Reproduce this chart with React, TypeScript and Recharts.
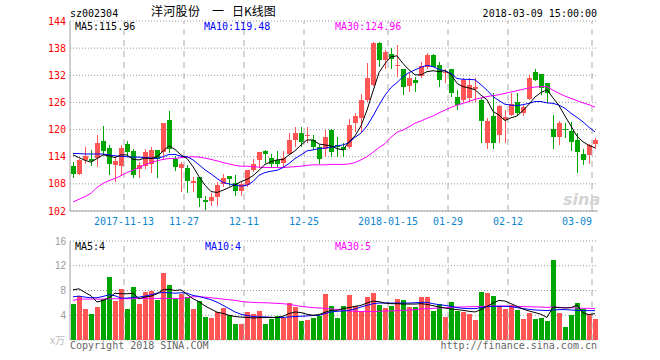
import { ComposedChart, Bar, Line, XAxis, YAxis, CartesianGrid, ReferenceLine } from 'recharts'

// 洋河股份 sz002304 日K线, 2017-10-31 .. 2018-03-09
const dates = [
  '2017-10-31', '2017-11-01', '2017-11-02', '2017-11-03', '2017-11-06', '2017-11-07', '2017-11-08', '2017-11-09', '2017-11-10',
  '2017-11-13', '2017-11-14', '2017-11-15', '2017-11-16', '2017-11-17', '2017-11-20', '2017-11-21', '2017-11-22', '2017-11-23', '2017-11-24',
  '2017-11-27', '2017-11-28', '2017-11-29', '2017-11-30', '2017-12-01', '2017-12-04', '2017-12-05', '2017-12-06', '2017-12-07', '2017-12-08',
  '2017-12-11', '2017-12-12', '2017-12-13', '2017-12-14', '2017-12-15', '2017-12-18', '2017-12-19', '2017-12-20', '2017-12-21', '2017-12-22',
  '2017-12-25', '2017-12-26', '2017-12-27', '2017-12-28', '2017-12-29', '2018-01-02', '2018-01-03', '2018-01-04', '2018-01-05', '2018-01-08',
  '2018-01-09', '2018-01-10', '2018-01-11', '2018-01-12', '2018-01-15', '2018-01-16', '2018-01-17', '2018-01-18', '2018-01-19', '2018-01-22',
  '2018-01-23', '2018-01-24', '2018-01-25', '2018-01-26', '2018-01-29', '2018-01-30', '2018-01-31', '2018-02-01', '2018-02-02', '2018-02-05',
  '2018-02-06', '2018-02-07', '2018-02-08', '2018-02-09', '2018-02-12', '2018-02-13', '2018-02-14', '2018-02-22', '2018-02-23', '2018-02-26',
  '2018-02-27', '2018-02-28', '2018-03-01', '2018-03-02', '2018-03-05', '2018-03-06', '2018-03-07', '2018-03-08', '2018-03-09',
]

const open = [
  111.9, 110.2, 113.3, 113.6, 113.8, 117.5, 116.0, 112.2, 112.0, 116.8,
  115.3, 111.2, 112.0, 112.5, 115.5, 115.1, 122.1, 113.6, 111.4, 111.6,
  108.3, 109.6, 104.4, 104.3, 105.1, 107.9, 109.8, 108.1, 106.5, 107.7,
  111.0, 113.3, 115.3, 113.8, 113.3, 112.7, 114.7, 117.7, 119.2, 118.6,
  117.7, 116.1, 115.8, 119.9, 116.6, 116.1, 116.1, 121.5, 122.5, 126.5,
  129.8, 139.2, 135.4, 136.7, 134.1, 133.5, 129.6, 131.0, 131.8, 133.9,
  136.5, 134.3, 132.5, 133.3, 127.3, 126.5, 126.9, 128.9, 126.5, 117.0,
  123.0, 118.8, 122.1, 123.2, 126.2, 123.6, 126.7, 132.8, 132.3, 130.2,
  120.1, 118.3, 120.1, 119.7, 117.7, 114.7, 114.4, 116.8,
]
const high = [
  112.9, 113.6, 116.1, 115.5, 118.8, 120.8, 116.6, 114.1, 116.6, 117.5,
  115.8, 112.9, 115.8, 116.1, 115.5, 121.5, 124.2, 114.1, 112.9, 112.2,
  109.6, 109.6, 105.4, 106.0, 108.5, 110.2, 109.8, 110.0, 108.5, 111.0,
  113.6, 115.1, 115.5, 114.7, 115.3, 115.3, 119.2, 120.5, 120.5, 120.5,
  118.8, 116.6, 119.9, 120.1, 118.3, 117.0, 122.3, 123.6, 127.9, 134.8,
  139.4, 139.4, 137.6, 138.0, 138.7, 133.5, 132.4, 131.7, 135.0, 137.0,
  136.7, 135.0, 133.3, 133.5, 128.7, 131.3, 131.3, 131.3, 126.9, 122.5,
  128.0, 125.4, 124.3, 128.1, 128.1, 125.4, 132.1, 133.3, 132.3, 130.2,
  123.2, 122.0, 121.4, 121.7, 119.2, 115.8, 116.9, 118.1,
]
const low = [
  109.2, 110.0, 112.5, 112.0, 111.8, 114.4, 110.0, 108.5, 110.0, 114.0,
  109.4, 109.2, 111.2, 110.5, 109.4, 113.3, 114.9, 110.9, 106.3, 106.0,
  106.3, 102.8, 102.2, 103.1, 103.2, 107.4, 107.5, 105.4, 105.4, 107.4,
  110.7, 111.4, 112.7, 111.6, 111.8, 111.6, 114.4, 116.2, 116.2, 117.0,
  115.5, 112.5, 114.0, 114.0, 114.0, 114.0, 115.8, 119.5, 119.2, 126.2,
  129.6, 133.9, 133.5, 133.5, 131.7, 127.6, 128.4, 128.4, 131.5, 133.5,
  133.8, 129.5, 130.2, 127.3, 124.3, 126.2, 126.2, 126.2, 117.0, 115.8,
  115.8, 117.0, 117.0, 122.9, 123.2, 123.0, 126.5, 130.8, 127.6, 125.8,
  115.8, 116.6, 118.1, 115.3, 110.5, 112.2, 112.4, 115.8,
]
const close = [
  110.2, 113.3, 114.1, 113.1, 117.1, 115.3, 112.5, 113.0, 116.0, 115.1,
  110.0, 112.2, 115.0, 115.5, 113.6, 121.5, 115.8, 111.8, 112.3, 108.7,
  108.7, 104.9, 104.1, 105.2, 107.7, 109.2, 109.0, 106.5, 108.0, 111.0,
  112.4, 115.1, 114.6, 112.3, 112.3, 113.8, 117.8, 119.3, 117.3, 118.9,
  116.1, 113.4, 118.3, 115.1, 116.1, 115.5, 121.0, 123.0, 126.5, 131.3,
  139.2, 135.4, 137.2, 135.7, 134.3, 129.3, 131.3, 130.2, 134.1, 136.5,
  133.9, 131.0, 132.7, 128.0, 125.4, 131.0, 129.8, 129.3, 122.0, 122.0,
  117.0, 125.2, 122.7, 125.6, 123.6, 125.1, 131.3, 130.9, 129.1, 128.0,
  118.3, 121.5, 119.9, 117.2, 115.1, 113.3, 116.7, 117.8,
]

// 均线
const ma5 = [
  114.4, 113.8, 113.2, 112.8, 113.6, 114.4, 114.2, 113.8, 114.4, 114.4,
  113.4, 113.3, 113.7, 113.6, 114.0, 115.2, 116.4, 115.6, 114.4, 113.6,
  111.8, 109.6, 107.7, 106.3, 106.1, 106.6, 107.2, 107.8, 108.5, 109.0,
  109.8, 111.0, 112.3, 112.9, 113.3, 113.4, 114.4, 115.3, 116.6, 117.7,
  117.7, 116.8, 116.6, 116.4, 115.8, 115.5, 117.3, 118.6, 120.8, 124.3,
  128.5, 132.6, 134.6, 136.1, 136.3, 134.6, 133.2, 132.1, 132.1, 132.8,
  133.0, 132.8, 133.0, 132.2, 130.2, 129.5, 129.2, 128.8, 127.6, 126.6,
  124.0, 123.2, 122.0, 122.6, 123.0, 124.2, 125.6, 127.2, 128.2, 128.8,
  127.0, 125.3, 123.0, 120.8, 118.5, 117.3, 116.5, 115.96,
]
const ma10 = [
  114.7, 114.7, 114.6, 114.6, 114.6, 114.6, 114.4, 114.2, 114.1, 114.0,
  113.9, 113.9, 113.8, 113.7, 113.6, 114.0, 114.5, 114.5, 114.1, 114.0,
  113.3, 112.2, 111.1, 110.2, 109.2, 108.3, 108.0, 107.7, 107.5, 107.7,
  108.5, 109.9, 110.5, 110.8, 111.0, 111.6, 112.5, 113.6, 114.4, 115.3,
  115.5, 115.8, 115.9, 116.1, 116.4, 116.6, 117.1, 118.3, 119.2, 120.8,
  123.0, 125.4, 127.6, 129.3, 130.4, 131.7, 132.6, 133.2, 133.8, 134.2,
  133.9, 133.3, 133.0, 132.4, 131.3, 131.1, 131.1, 131.0, 129.9, 128.7,
  127.3, 126.4, 125.6, 125.4, 125.3, 125.5, 125.8, 126.2, 126.2, 125.9,
  125.8, 125.4, 124.7, 123.6, 122.7, 121.7, 120.5, 119.48,
]
const ma30 = [
  104.0, 104.6, 105.2, 105.9, 107.2, 108.1, 108.7, 109.2, 109.8, 110.5,
  111.0, 111.6, 112.2, 112.7, 113.1, 113.4, 113.6, 113.6, 113.8, 113.9,
  114.0, 113.9, 113.7, 113.4, 113.1, 112.7, 112.4, 112.1, 111.9, 111.9,
  111.8, 111.7, 111.6, 111.6, 111.6, 111.6, 111.7, 111.8, 111.9, 112.1,
  112.2, 112.2, 112.2, 112.3, 112.3, 112.3, 112.4, 112.7, 113.3, 114.0,
  115.0, 116.0, 116.9, 118.3, 119.4, 119.9, 120.6, 121.4, 121.9, 122.5,
  123.0, 123.7, 124.3, 124.9, 125.4, 125.8, 126.2, 126.7, 127.0, 127.3,
  127.5, 127.7, 128.0, 128.3, 128.6, 128.9, 129.2, 129.4, 129.5, 129.5,
  128.7, 128.0, 127.4, 126.9, 126.4, 125.9, 125.5, 124.96,
]

// 成交量 (x万)
const vol = [
  5.76, 7.09, 4.96, 4.16, 5.3, 6.6, 10.24, 6.24, 8.32, 4.96,
  8.64, 5.8, 7.68, 8.0, 6.4, 10.88, 8.96, 6.56, 7.36, 6.93,
  4.96, 6.24, 3.68, 3.52, 4.53, 5.12, 4.0, 2.56, 2.56, 4.48,
  4.16, 4.64, 2.56, 3.36, 3.95, 3.63, 5.92, 5.28, 3.04, 3.2,
  3.63, 3.95, 7.36, 5.55, 3.63, 5.44, 7.2, 5.44, 4.64, 6.88,
  7.52, 5.6, 5.12, 5.44, 6.56, 6.4, 5.28, 5.28, 6.88, 6.88,
  4.64, 5.76, 3.68, 6.08, 4.64, 4.48, 4.16, 3.2, 7.68, 7.52,
  7.04, 5.44, 4.96, 5.6, 4.8, 3.36, 4.32, 3.36, 3.52, 3.04,
  12.96, 4.32, 2.08, 4.0, 5.92, 4.96, 4.16, 3.36,
]
const vma5 = [
  8.11, 8.27, 7.68, 7.15, 6.13, 6.4, 6.83, 7.57, 7.47, 7.47,
  7.57, 6.67, 6.93, 7.09, 7.47, 8.11, 8.21, 8.0, 8.11, 7.36,
  6.67, 6.2, 5.5, 5.0, 4.5, 4.3, 4.0, 3.8, 3.7, 3.65,
  3.55, 3.63, 3.63, 3.63, 3.63, 3.84, 4.27, 4.53, 4.43, 4.16,
  4.0, 4.1, 4.48, 4.8, 4.8, 5.07, 5.23, 5.44, 5.6, 5.97,
  6.29, 6.19, 5.97, 5.87, 5.87, 5.81, 5.81, 5.81, 5.87, 5.76,
  5.55, 5.33, 5.17, 5.01, 4.91, 4.8, 4.64, 4.53, 4.91, 5.44,
  5.97, 6.4, 6.29, 5.87, 5.44, 5.01, 4.69, 4.43, 4.16, 3.63,
  5.33, 5.23, 5.17, 5.23, 5.65, 4.37, 4.11, 4.27,
]
const vma10 = [
  6.99, 7.09, 6.93, 6.83, 6.83, 7.04, 7.31, 7.15, 6.77, 6.77,
  6.88, 6.93, 7.09, 7.31, 7.57, 7.68, 7.63, 7.57, 7.63, 7.57,
  7.2, 7.04, 6.77, 6.51, 6.13, 5.6, 5.07, 4.53, 4.16, 3.95,
  3.79, 3.73, 3.73, 3.68, 3.63, 3.63, 3.73, 3.79, 3.84, 3.89,
  3.95, 4.0, 4.27, 4.53, 4.64, 4.69, 4.8, 5.01, 5.33, 5.6,
  5.87, 5.97, 5.97, 5.97, 5.97, 5.97, 5.97, 6.03, 6.08, 6.08,
  5.87, 5.71, 5.6, 5.44, 5.23, 5.12, 5.07, 5.07, 5.23, 5.39,
  5.44, 5.44, 5.44, 5.39, 5.23, 5.07, 4.96, 4.85, 4.8, 4.75,
  4.85, 4.91, 4.91, 4.85, 4.8, 4.75, 4.75, 4.75,
]
const vma30 = [
  6.4, 6.61, 6.61, 6.61, 6.61, 6.61, 6.67, 6.67, 6.67, 6.67,
  6.67, 6.72, 6.72, 6.72, 6.72, 6.72, 6.72, 6.72, 6.72, 6.83,
  6.99, 6.99, 6.93, 6.83, 6.72, 6.61, 6.51, 6.4, 6.24, 6.13,
  6.08, 6.03, 6.03, 5.97, 5.92, 5.87, 5.76, 5.6, 5.44, 5.33,
  5.23, 5.17, 5.12, 5.01, 4.96, 4.8, 4.69, 4.64, 4.59, 4.59,
  4.59, 4.64, 4.69, 4.69, 4.75, 4.8, 4.85, 4.91, 5.01, 5.07,
  5.12, 5.17, 5.23, 5.28, 5.33, 5.33, 5.39, 5.39, 5.44, 5.44,
  5.49, 5.49, 5.49, 5.44, 5.44, 5.39, 5.39, 5.33, 5.33, 5.28,
  5.33, 5.28, 5.23, 5.23, 5.17, 5.12, 5.12, 5.07,
]

const tickDates = ['2017-11-13', '2017-11-27', '2017-12-11', '2017-12-25', '2018-01-15', '2018-01-29', '2018-02-12', '2018-03-09']
const tickText = ['2017-11-13', '11-27', '12-11', '12-25', '2018-01-15', '01-29', '02-12', '03-09']
const priceTicks = [102, 108, 114, 120, 126, 132, 138, 144]
const volTicks = [0, 4, 8, 12, 16]

const rows = dates.map((date, i) => ({
  date,
  open: open[i], high: high[i], low: low[i], close: close[i],
  range: [low[i], high[i]],
  ma5: ma5[i], ma10: ma10[i], ma30: ma30[i],
  vol: vol[i], vma5: vma5[i], vma10: vma10[i], vma30: vma30[i],
}))

const RED = '#ff5555'
const GREEN = '#00a600'
const BORDER = '#a0a0a0'
const MONO = 'DejaVu Sans Mono'

function Candle(props: any) {
  const { x, y, width, height } = props
  const p = props.payload || props
  const top = Math.min(y, y + height)
  const h = Math.abs(height)
  const k = h / (p.high - p.low || 1)
  const py = (v: number) => top + (p.high - v) * k
  const color = p.close >= p.open ? RED : GREEN
  const bx = Math.floor(x)
  const bw = Math.round(width)
  const bt = Math.round(py(Math.max(p.open, p.close)))
  const bb = Math.round(py(Math.min(p.open, p.close)))
  const wt = Math.round(top)
  const wb = Math.round(top + h)
  return (
    <g>
      <rect x={bx + Math.floor(bw / 2)} y={wt} width={1} height={Math.max(1, wb - wt)} fill={color} />
      <rect x={bx} y={bt} width={bw} height={Math.max(1, bb - bt)} fill={color} />
    </g>
  )
}

function VolBar(props: any) {
  const { x, y, width, height } = props
  const p = props.payload || props
  const t = Math.round(y)
  const b = Math.round(y + height)
  return <rect x={Math.floor(x)} y={t} width={Math.round(width)} height={Math.max(0, b - t)} fill={p.close >= p.open ? RED : GREEN} />
}

function DateTick(props: any) {
  const { x, y, payload } = props
  const i = tickDates.indexOf(payload.value)
  if (i < 0) return null
  const last = i === tickDates.length - 1
  return (
    <text x={x - 3} y={y} dy="0.71em" textAnchor={last ? 'end' : 'middle'} fill="#0e86d0" fontSize={10} fontFamily={MONO}>
      {tickText[i]}
    </text>
  )
}

function gridLines() {
  return tickDates.map((d) => (
    <ReferenceLine key={d} x={d} position="start" stroke="#aaaaaa" strokeDasharray="6 5" ifOverflow="extendDomain" />
  ))
}

export default function App() {
  return (
    <div style={{ position: 'absolute', left: 0, top: 0, width: 660, height: 360, background: '#fff' }}>
      {/* K线 */}
      <div style={{ position: 'absolute', left: 0, top: 0 }}>
        <ComposedChart width={660} height={240} data={rows} margin={{ top: 21, right: 62, bottom: 9, left: 10 }} barCategoryGap={0}>
          <CartesianGrid vertical={false} stroke="#999" strokeDasharray="1 2" />
          <XAxis dataKey="date" ticks={tickDates} interval={0} height={20} tick={DateTick}
            tickLine={false} tickSize={6} tickMargin={1} axisLine={{ stroke: BORDER }} />
          <XAxis xAxisId="top" orientation="top" dataKey="date" height={0} tick={false} tickLine={false} axisLine={{ stroke: BORDER }} />
          <YAxis domain={[102, 144]} ticks={priceTicks} interval={0} width={60} tickLine={false} tickSize={2} tickMargin={2}
            tick={{ fill: '#ff0000', fontSize: 10, fontFamily: MONO }} axisLine={{ stroke: BORDER }} />
          <YAxis yAxisId="r" orientation="right" domain={[102, 144]} width={0} tick={false} tickLine={false} axisLine={{ stroke: BORDER }} />
          {gridLines()}
          <Bar dataKey="range" barSize={5} shape={Candle} isAnimationActive={false} />
          <Line dataKey="ma30" type="linear" stroke="#ff00ff" strokeWidth={1} dot={false} isAnimationActive={false} />
          <Line dataKey="ma10" type="linear" stroke="#0000ff" strokeWidth={1} dot={false} isAnimationActive={false} />
          <Line dataKey="ma5" type="linear" stroke="#000000" strokeWidth={1} dot={false} isAnimationActive={false} />
        </ComposedChart>
      </div>

      {/* 成交量 */}
      <div style={{ position: 'absolute', left: 0, top: 230 }}>
        <ComposedChart width={660} height={130} data={rows} margin={{ top: 11, right: 62, bottom: 20, left: 10 }} barCategoryGap={0}>
          <CartesianGrid vertical={false} stroke="#999" strokeDasharray="1 2" />
          <XAxis dataKey="date" height={0} tick={false} tickLine={false} axisLine={{ stroke: BORDER }} />
          <XAxis xAxisId="top" orientation="top" dataKey="date" height={0} tick={false} tickLine={false} axisLine={{ stroke: BORDER }} />
          <YAxis domain={[0, 16]} ticks={volTicks} interval={0} width={60} tickLine={false} tickSize={2} tickMargin={2}
            tickFormatter={(v: number) => (v === 0 ? '' : String(v))}
            tick={{ fill: '#999', fontSize: 10, fontFamily: 'Liberation Sans' }} axisLine={{ stroke: BORDER }} />
          <YAxis yAxisId="r" orientation="right" domain={[0, 16]} width={0} tick={false} tickLine={false} axisLine={{ stroke: BORDER }} />
          {gridLines()}
          <Bar dataKey="vol" barSize={5} shape={VolBar} isAnimationActive={false} />
          <Line dataKey="vma30" type="linear" stroke="#ff00ff" strokeWidth={1} dot={false} isAnimationActive={false} />
          <Line dataKey="vma10" type="linear" stroke="#0000ff" strokeWidth={1} dot={false} isAnimationActive={false} />
          <Line dataKey="vma5" type="linear" stroke="#000000" strokeWidth={1} dot={false} isAnimationActive={false} />
        </ComposedChart>
      </div>

      {/* 标题与图例 */}
      <svg width={660} height={360} style={{ position: 'absolute', left: 0, top: 0, pointerEvents: 'none' }}>
        <text x={70} y={16.5} fontSize={10} fontFamily={MONO} fill="#000">sz002304</text>
        <text x={151} y={16} fontSize={12} fontFamily="Noto Sans CJK SC" fill="#000" letterSpacing={0.3}>洋河股份</text>
        <text x={212} y={16} fontSize={12} fontFamily="Noto Sans CJK SC" fill="#000">一</text>
        <text x={232} y={16} fontSize={12} fontFamily="Noto Sans CJK SC" fill="#000">日K线图</text>
        <text x={597} y={16.5} fontSize={10} fontFamily={MONO} fill="#000" textAnchor="end">2018-03-09 15:00:00</text>

        <text x={75} y={30} fontSize={10} fontFamily={MONO} fill="#000">MA5:115.96</text>
        <text x={204} y={30} fontSize={10} fontFamily={MONO} fill="#0000ff">MA10:119.48</text>
        <text x={335} y={30} fontSize={10} fontFamily={MONO} fill="#ff00ff">MA30:124.96</text>

        <text x={563} y={205} fontSize={16} fontFamily="DejaVu Sans" fontStyle="italic" fontWeight="bold" fill="#d4d4d4">sina</text>

        <text x={75} y={249.5} fontSize={10} fontFamily={MONO} fill="#000">MA5:4</text>
        <text x={205} y={249.5} fontSize={10} fontFamily={MONO} fill="#0000ff">MA10:4</text>
        <text x={335} y={249.5} fontSize={10} fontFamily={MONO} fill="#ff00ff">MA30:5</text>

        <text x={50} y={344} fontSize={10} fontFamily="Noto Sans CJK SC" fill="#bbb">x万</text>
        <text x={70} y={349} fontSize={10} fontFamily={MONO} fill="#666">Copyright 2018 SINA.COM</text>
        <text x={597} y={349} fontSize={10} fontFamily={MONO} fill="#666" textAnchor="end">http://finance.sina.com.cn</text>
      </svg>
    </div>
  )
}
